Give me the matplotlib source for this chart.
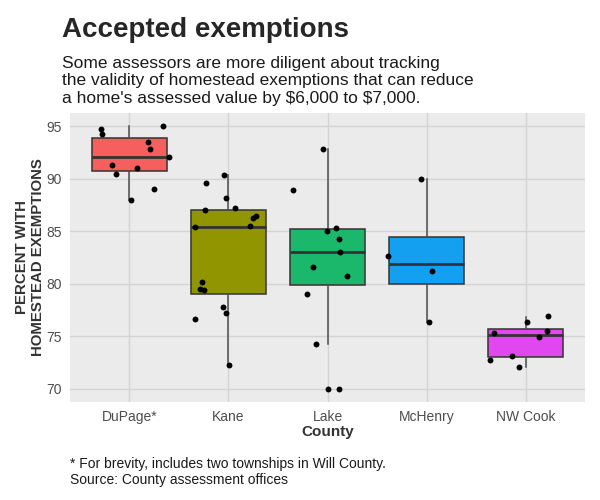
import matplotlib
matplotlib.use('Agg')  # no display
import matplotlib.pyplot as plt

plt.rcParams['font.family'] = ['Liberation Sans', 'DejaVu Sans']

# --- data ---
counties = ["DuPage*", "Kane", "Lake", "McHenry", "NW Cook"]
box_colors = ["#f5605e", "#909500", "#1bb86c", "#14a0f0", "#e047ee"]

# box stats per county: lower whisker, Q1, median, Q3, upper whisker
whis_lo = [87.93, 72.26, 74.32, 76.41, 72.13]
q1 = [90.72, 79.05, 79.90, 80.00, 73.05]
median = [92.08, 85.42, 83.04, 81.93, 75.11]
q3 = [93.86, 87.01, 85.20, 84.47, 75.72]
whis_hi = [95.03, 90.34, 92.81, 89.93, 76.89]

# township values (jittered points) and their horizontal jitter
dupage_vals = [94.71, 94.24, 95.03, 93.54, 92.84, 92.08, 91.29, 90.46, 91.00, 89.04, 87.93]
dupage_jit = [-0.29, -0.28, 0.34, 0.19, 0.21, 0.40, -0.18, -0.14, 0.08, 0.25, 0.02]
kane_vals = [90.34, 89.61, 88.12, 87.17, 86.98, 86.28, 86.47, 85.39, 85.49,
             80.13, 79.55, 79.43, 77.84, 77.27, 76.67, 72.26]
kane_jit = [-0.05, -0.23, -0.02, 0.07, -0.24, 0.25, 0.28, -0.34, 0.22,
            -0.27, -0.29, -0.25, -0.06, -0.02, -0.34, 0.01]
lake_vals = [92.81, 88.88, 85.33, 85.07, 84.31, 83.04, 81.65, 80.76, 79.02, 74.32, 70.04, 70.04]
lake_jit = [-0.05, -0.35, 0.09, -0.01, 0.12, 0.13, -0.15, 0.20, -0.21, -0.12, 0.0, 0.12]
mchenry_vals = [89.93, 82.69, 81.20, 76.41]
mchenry_jit = [-0.06, -0.39, 0.06, 0.02]
nwcook_vals = [76.95, 76.35, 75.56, 75.34, 74.96, 73.18, 72.77, 72.13]
nwcook_jit = [0.23, 0.01, 0.22, -0.32, 0.14, -0.14, -0.36, -0.07]

point_vals = [dupage_vals, kane_vals, lake_vals, mchenry_vals, nwcook_vals]
point_jit = [dupage_jit, kane_jit, lake_jit, mchenry_jit, nwcook_jit]

y_ticks = [70, 75, 80, 85, 90, 95]

W, H = 600, 500
fig = plt.figure(figsize=(6, 5), dpi=100)
fig.patch.set_facecolor('white')

# panel placed in pixel coords of the reference
left, right, top, bottom = 70, 585, 112.7, 401.7
ax = fig.add_axes([left / W, 1 - bottom / H, (right - left) / W, (bottom - top) / H])
ax.set_facecolor('#ebebeb')

stats = []
for i in range(len(counties)):
    stats.append({'whislo': whis_lo[i], 'q1': q1[i], 'med': median[i],
                  'q3': q3[i], 'whishi': whis_hi[i], 'fliers': []})

positions = list(range(1, len(counties) + 1))
bp = ax.bxp(stats, positions=positions, widths=0.75, patch_artist=True,
            showfliers=False, showcaps=False,
            boxprops=dict(edgecolor='#333333', linewidth=1.1),
            medianprops=dict(color='#333333', linewidth=2.0),
            whiskerprops=dict(color='#4d4d4d', linewidth=1.1),
            zorder=2)
for patch, c in zip(bp['boxes'], box_colors):
    patch.set_facecolor(c)

for i, (vals, jit) in enumerate(zip(point_vals, point_jit)):
    xs = [positions[i] + j for j in jit]
    ax.scatter(xs, vals, s=18, color='black', zorder=3, linewidths=0)

ax.set_xlim(0.4, 5.6)
ax.set_ylim(68.79, 96.28)
ax.set_xticks(positions)
ax.set_xticklabels(counties)
ax.set_yticks(y_ticks)
ax.tick_params(length=0, labelsize=10, labelcolor='#4d4d4d', pad=6)
ax.grid(True, color='#d3d3d3', linewidth=1.0, zorder=0)
ax.set_axisbelow(True)
for s in ax.spines.values():
    s.set_visible(False)

ax.set_xlabel("County", fontsize=11, fontweight='bold', color='#333333', labelpad=1)
ax.set_ylabel("PERCENT WITH\nHOMESTEAD EXEMPTIONS", fontsize=10.8, fontweight='bold',
              color='#333333', labelpad=0.5, linespacing=1.25)

# titles
fig.text(62 / W, 1 - 37 / H, "Accepted exemptions", fontsize=20, fontweight='bold',
         color='#262626', ha='left', va='baseline')
fig.text(62 / W, 1 - 103 / H,
         "Some assessors are more diligent about tracking\n"
         "the validity of homestead exemptions that can reduce\n"
         "a home's assessed value by \\$6,000 to \\$7,000.",
         fontsize=12.5, color='#1a1a1a', ha='left', va='baseline', linespacing=1.22)

# footnote
fig.text(70 / W, 1 - 484 / H,
         "* For brevity, includes two townships in Will County.\n"
         "Source: County assessment offices",
         fontsize=10, color='#1a1a1a', ha='left', va='baseline', linespacing=1.22)

fig.savefig('out.png', dpi=100)
